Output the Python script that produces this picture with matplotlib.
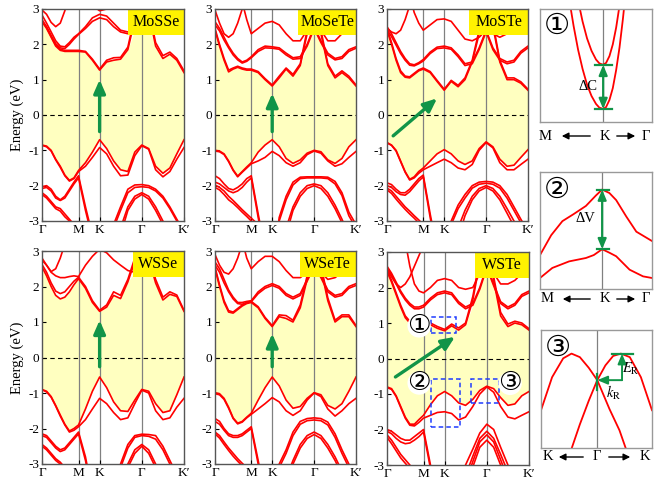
import matplotlib
matplotlib.use('Agg')
import matplotlib.pyplot as plt
from matplotlib.patches import Rectangle, FancyArrowPatch
import numpy as np

plt.rcParams['font.family'] = ['Liberation Serif', 'DejaVu Serif', 'DejaVu Sans']
plt.rcParams['axes.unicode_minus'] = False
plt.rcParams['mathtext.fontset'] = 'stix'

# k-path  Γ - M - K - Γ - K'
k_path = [0, 0.125, 0.25, 0.375, 0.5, 0.625, 0.75, 0.875, 1.0, 1.19, 1.38, 1.577,
          1.77, 1.96, 2.15, 2.35, 2.54, 2.732, 2.92, 3.11, 3.31, 3.50, 3.69, 3.887]
k_ticks = [0, 1.0, 1.577, 2.732, 3.887]
k_labels = ['Γ', 'M', 'K', 'Γ', 'K′']
e_ticks = [-3, -2, -1, 0, 1, 2, 3]

# ---- MoSSe ----
mosse_valence = [
    [-0.85, -0.88, -1.0, -1.25, -1.45, -1.7, -1.85, -1.78, -1.57, -1.35, -1.05, -0.7, -0.95, -1.3, -1.55, -1.6, -1.05, -0.85, -0.95, -1.45, -1.65, -1.5, -1.1, -0.7],
    [-0.86, -0.9, -1.02, -1.27, -1.48, -1.72, -1.87, -1.8, -1.6, -1.45, -1.2, -0.92, -1.1, -1.45, -1.72, -1.7, -1.15, -0.87, -0.97, -1.55, -1.75, -1.6, -1.25, -0.92],
    [-2.03, -2.0, -2.1, -2.3, -2.4, -2.3, -2.1, -1.9, -1.72, -2.6, -3.4, -4.0, -3.6, -3.1, -2.6, -2.1, -1.98, -1.97, -2.0, -2.1, -2.3, -2.6, -2.95, -3.3],
    [-2.08, -2.05, -2.15, -2.35, -2.42, -2.35, -2.15, -1.95, -1.78, -2.7, -3.5, -4.0, -3.7, -3.2, -2.7, -2.2, -2.05, -2.03, -2.05, -2.15, -2.35, -2.65, -3.0, -3.35],
    [-2.2, -2.3, -2.45, -2.6, -2.65, -2.8, -2.95, -3.1, -3.2, -3.5, -4, -4, -4, -3.8, -3.2, -2.6, -2.3, -2.2, -2.3, -2.6, -3.0, -3.4, -3.8, -4],
    [-2.25, -2.35, -2.5, -2.65, -2.72, -2.88, -3.0, -3.15, -3.3, -3.6, -4, -4, -4, -4, -3.4, -2.7, -2.38, -2.25, -2.38, -2.7, -3.1, -3.5, -3.9, -4],
]
mosse_conduction = [
    [2.64, 2.45, 2.2, 1.95, 1.83, 1.8, 1.8, 1.8, 1.8, 1.78, 1.55, 1.27, 1.5, 1.55, 1.58, 1.85, 2.7, 4.0, 2.9, 1.95, 1.6, 1.72, 1.55, 1.2],
    [2.66, 2.48, 2.23, 1.98, 1.86, 1.83, 1.83, 1.83, 1.83, 1.8, 1.58, 1.3, 1.55, 1.62, 1.63, 1.92, 2.8, 4.0, 3.0, 2.05, 1.68, 1.78, 1.6, 1.25],
    [2.83, 2.6, 2.35, 2.1, 1.95, 1.93, 2.05, 2.2, 2.3, 2.5, 2.75, 2.85, 2.8, 2.6, 2.4, 2.35, 2.45, 2.8, 2.5, 2.4, 2.5, 2.8, 3.2, 3.5],
    [2.7, 2.5, 2.25, 2.02, 1.9, 1.88, 2.0, 2.15, 2.28, 2.45, 2.65, 2.75, 2.7, 2.5, 2.35, 2.3, 2.4, 2.75, 2.45, 2.35, 2.45, 2.75, 3.1, 3.4],
    [2.97, 2.85, 2.62, 2.5, 2.6, 2.95, 3.4, 4, 4, 3.4, 3.1, 2.95, 3.0, 3.2, 3.5, 4, 4, 4, 4, 4, 4, 4, 4, 4],
]

# ---- MoSeTe ----
mosete_valence = [
    [-1.0, -1.02, -1.1, -1.3, -1.55, -1.73, -1.6, -1.47, -1.35, -1.05, -0.85, -0.7, -0.9, -1.23, -1.37, -1.27, -1.08, -1.0, -1.04, -1.27, -1.37, -1.23, -0.9, -0.7],
    [-1.02, -1.04, -1.12, -1.32, -1.57, -1.75, -1.62, -1.5, -1.38, -1.3, -1.2, -1.03, -1.15, -1.35, -1.45, -1.35, -1.12, -1.02, -1.08, -1.3, -1.45, -1.38, -1.2, -1.03],
    [-1.72, -1.8, -1.95, -2.08, -2.12, -2.05, -1.95, -1.8, -1.72, -2.8, -3.8, -4.5, -2.9, -2.3, -1.9, -1.76, -1.75, -1.75, -1.75, -1.76, -1.88, -2.2, -2.75, -3.1],
    [-1.9, -1.95, -2.05, -2.15, -2.2, -2.15, -2.05, -1.9, -1.78, -2.9, -3.9, -4.5, -3.0, -2.4, -1.98, -1.8, -1.78, -1.78, -1.78, -1.8, -1.95, -2.28, -2.85, -3.2],
    [-1.98, -2.05, -2.15, -2.3, -2.42, -2.55, -2.68, -2.8, -2.92, -3.1, -3.3, -3.6, -4, -3.2, -2.6, -2.2, -2.0, -1.95, -2.0, -2.2, -2.55, -2.95, -3.4, -3.8],
    [-2.05, -2.12, -2.25, -2.4, -2.5, -2.62, -2.75, -2.87, -3.0, -3.2, -3.4, -3.7, -4, -3.4, -2.7, -2.3, -2.08, -2.0, -2.08, -2.3, -2.65, -3.05, -3.5, -3.9],
]
mosete_conduction = [
    [2.4, 1.95, 1.55, 1.22, 1.3, 1.35, 1.3, 1.27, 1.27, 1.2, 1.0, 0.82, 1.05, 1.3, 1.1, 1.4, 2.3, 3.5, 2.3, 1.4, 1.05, 1.2, 1.05, 0.82],
    [2.45, 2.0, 1.6, 1.27, 1.33, 1.38, 1.33, 1.3, 1.3, 1.23, 1.03, 0.85, 1.1, 1.33, 1.15, 1.45, 2.4, 3.5, 2.4, 1.45, 1.1, 1.25, 1.1, 0.85],
    [2.64, 2.45, 2.2, 1.95, 1.75, 1.6, 1.5, 1.55, 1.65, 1.85, 1.95, 1.93, 1.9, 1.75, 1.62, 1.65, 2.0, 2.5, 2.1, 1.75, 1.6, 1.65, 1.85, 1.93],
    [2.55, 2.38, 2.12, 1.9, 1.7, 1.56, 1.47, 1.52, 1.62, 1.8, 1.9, 1.89, 1.86, 1.7, 1.58, 1.6, 1.95, 2.45, 2.05, 1.7, 1.56, 1.6, 1.8, 1.89],
    [2.97, 2.6, 2.3, 2.2, 2.3, 2.6, 3.0, 3.5, 4, 4, 4, 4, 4, 4, 4, 4, 4, 4, 4, 4, 4, 4, 4, 4],
    [4, 4, 4, 4, 4, 4, 3.2, 2.7, 2.3, 2.45, 2.6, 2.65, 2.55, 2.3, 2.1, 2.1, 2.4, 2.9, 2.4, 2.1, 2.1, 2.3, 2.5, 2.6],
]

# ---- MoSTe ----
moste_valence = [
    [-0.78, -0.85, -1.0, -1.3, -1.6, -1.82, -1.75, -1.6, -1.5, -1.3, -1.1, -0.98, -1.1, -1.3, -1.4, -1.3, -0.95, -0.76, -0.9, -1.25, -1.45, -1.42, -1.2, -0.98],
    [-0.79, -0.86, -1.02, -1.32, -1.62, -1.84, -1.78, -1.65, -1.55, -1.45, -1.35, -1.25, -1.35, -1.5, -1.55, -1.4, -1.0, -0.78, -0.93, -1.35, -1.55, -1.55, -1.4, -1.25],
    [-1.92, -1.97, -2.1, -2.2, -2.2, -2.1, -1.95, -1.8, -1.7, -2.8, -3.8, -4.5, -3.0, -2.55, -2.25, -2.0, -1.9, -1.88, -1.9, -2.0, -2.25, -2.6, -2.95, -3.3],
    [-2.0, -2.05, -2.17, -2.25, -2.27, -2.17, -2.02, -1.87, -1.75, -2.9, -3.9, -4.5, -3.1, -2.65, -2.35, -2.07, -1.96, -1.93, -1.96, -2.07, -2.35, -2.7, -3.05, -3.4],
    [-2.07, -2.15, -2.3, -2.45, -2.6, -2.72, -2.85, -2.97, -3.1, -3.3, -3.6, -4, -4, -3.2, -2.7, -2.3, -2.08, -2.0, -2.08, -2.3, -2.65, -3.0, -3.4, -3.8],
    [-2.12, -2.22, -2.38, -2.53, -2.67, -2.8, -2.92, -3.05, -3.2, -3.4, -3.7, -4, -4, -3.5, -2.85, -2.4, -2.15, -2.05, -2.15, -2.4, -2.78, -3.15, -3.55, -3.9],
]
moste_conduction = [
    [2.4, 2.0, 1.55, 1.2, 1.07, 1.05, 1.15, 1.25, 1.3, 1.2, 0.95, 0.7, 0.95, 0.8, 1.0, 1.5, 2.3, 3.2, 2.5, 1.5, 1.0, 1.0, 0.9, 0.7],
    [2.45, 2.05, 1.6, 1.25, 1.1, 1.08, 1.18, 1.28, 1.33, 1.23, 0.98, 0.73, 0.98, 0.84, 1.05, 1.55, 2.4, 3.3, 2.6, 1.55, 1.05, 1.05, 0.94, 0.73],
    [2.5, 2.3, 2.05, 1.8, 1.6, 1.45, 1.42, 1.48, 1.57, 1.78, 1.92, 1.95, 1.9, 1.7, 1.45, 1.5, 1.9, 2.4, 1.9, 1.6, 1.5, 1.55, 1.8, 1.95],
    [2.42, 2.22, 1.98, 1.74, 1.55, 1.41, 1.39, 1.45, 1.53, 1.74, 1.88, 1.9, 1.86, 1.65, 1.4, 1.45, 1.85, 2.35, 1.85, 1.55, 1.45, 1.5, 1.75, 1.9],
    [2.45, 2.35, 2.3, 2.4, 2.7, 3.1, 3.5, 4, 4, 4, 4, 4, 4, 4, 4, 4, 4, 4, 4, 4, 4, 4, 4, 4],
    [4, 4, 4, 4, 4, 3.4, 2.9, 2.6, 2.4, 2.55, 2.7, 2.72, 2.65, 2.4, 2.15, 2.1, 2.2, 2.4, 2.3, 2.2, 2.3, 2.5, 2.7, 2.75],
]

# ---- WSSe ----
wsse_valence = [
    [-0.9, -0.95, -1.1, -1.35, -1.62, -1.88, -2.07, -2.0, -1.9, -1.45, -0.95, -0.55, -0.85, -1.25, -1.5, -1.52, -1.2, -0.9, -0.95, -1.3, -1.55, -1.5, -1.05, -0.55],
    [-0.91, -0.97, -1.12, -1.37, -1.65, -1.9, -2.1, -2.05, -1.95, -1.75, -1.45, -1.15, -1.3, -1.55, -1.75, -1.7, -1.3, -0.92, -1.0, -1.5, -1.75, -1.7, -1.4, -1.15],
    [-2.15, -2.2, -2.35, -2.5, -2.6, -2.55, -2.4, -2.25, -2.1, -2.8, -3.8, -4.5, -4.5, -4, -3.0, -2.45, -2.2, -2.16, -2.17, -2.2, -2.5, -2.9, -3.3, -3.7],
    [-2.2, -2.25, -2.4, -2.55, -2.65, -2.6, -2.45, -2.3, -2.15, -2.9, -3.9, -4.5, -4.5, -4, -3.1, -2.55, -2.25, -2.2, -2.22, -2.3, -2.6, -3.0, -3.4, -3.8],
    [-2.45, -2.55, -2.7, -2.85, -2.95, -3.1, -3.25, -3.4, -3.5, -4, -4, -4, -4, -4, -3.6, -3.0, -2.6, -2.45, -2.6, -3.0, -3.5, -4, -4, -4],
    [-2.5, -2.6, -2.75, -2.9, -3.0, -3.15, -3.3, -3.45, -3.55, -4, -4, -4, -4, -4, -3.7, -3.1, -2.7, -2.5, -2.7, -3.1, -3.6, -4, -4, -4],
]
wsse_conduction = [
    [2.55, 2.3, 2.0, 1.75, 1.65, 1.7, 1.85, 2.05, 2.22, 1.95, 1.55, 1.3, 1.42, 1.75, 1.66, 2.13, 2.7, 3.5, 2.8, 2.1, 1.62, 1.78, 1.72, 1.3],
    [2.62, 2.4, 2.1, 1.87, 1.8, 1.85, 2.0, 2.15, 2.26, 2.0, 1.6, 1.33, 1.48, 1.85, 1.75, 2.2, 2.8, 3.6, 2.9, 2.2, 1.7, 1.85, 1.76, 1.33],
    [2.74, 2.6, 2.4, 2.3, 2.25, 2.25, 2.28, 2.3, 2.28, 2.6, 2.85, 3.05, 2.95, 2.75, 2.6, 2.45, 2.4, 2.6, 2.5, 2.5, 2.6, 2.8, 3.0, 3.05],
    [2.8, 2.6, 2.42, 2.5, 2.8, 3.2, 3.6, 4, 4, 4, 4, 4, 4, 4, 4, 4, 4, 4, 4, 4, 4, 4, 4, 4],
]

# ---- WSeTe ----
wsete_valence = [
    [-0.99, -1.02, -1.15, -1.4, -1.7, -1.85, -1.8, -1.68, -1.57, -1.2, -0.85, -0.55, -0.8, -1.2, -1.43, -1.38, -1.15, -0.99, -1.05, -1.35, -1.45, -1.3, -0.95, -0.55],
    [-1.02, -1.05, -1.18, -1.43, -1.72, -1.87, -1.82, -1.7, -1.6, -1.45, -1.3, -1.13, -1.25, -1.5, -1.63, -1.5, -1.2, -1.0, -1.1, -1.45, -1.65, -1.5, -1.3, -1.15],
    [-1.72, -1.8, -2.0, -2.15, -2.2, -2.2, -2.15, -2.05, -1.95, -2.9, -3.9, -4.5, -3.0, -2.6, -2.1, -1.8, -1.72, -1.7, -1.72, -1.82, -2.15, -2.6, -3.0, -3.4],
    [-1.8, -1.88, -2.05, -2.2, -2.25, -2.25, -2.2, -2.1, -2.0, -3.0, -4.0, -4.5, -3.1, -2.7, -2.2, -1.88, -1.78, -1.76, -1.78, -1.9, -2.25, -2.7, -3.1, -3.5],
    [-2.1, -2.2, -2.38, -2.55, -2.7, -2.85, -2.98, -3.1, -3.2, -3.5, -4, -4, -4, -3.4, -2.9, -2.45, -2.2, -2.1, -2.2, -2.45, -2.8, -3.2, -3.6, -4],
    [-2.15, -2.27, -2.45, -2.62, -2.78, -2.92, -3.05, -3.18, -3.3, -3.6, -4, -4, -4, -3.5, -3.0, -2.55, -2.28, -2.17, -2.28, -2.55, -2.9, -3.3, -3.7, -4],
]
wsete_conduction = [
    [2.5, 2.0, 1.55, 1.28, 1.25, 1.35, 1.45, 1.52, 1.55, 1.4, 1.1, 0.87, 1.15, 1.1, 1.0, 1.4, 2.2, 3.2, 2.5, 1.6, 1.0, 1.15, 1.15, 0.87],
    [2.55, 2.05, 1.6, 1.32, 1.28, 1.38, 1.48, 1.55, 1.58, 1.43, 1.13, 0.9, 1.2, 1.18, 1.05, 1.48, 2.3, 3.3, 2.6, 1.68, 1.05, 1.2, 1.2, 0.9],
    [2.69, 2.5, 2.2, 1.9, 1.7, 1.55, 1.55, 1.58, 1.6, 1.85, 2.0, 2.08, 2.0, 1.8, 1.7, 1.8, 2.2, 2.6, 2.3, 1.9, 1.75, 1.8, 2.0, 2.08],
    [2.6, 2.4, 2.1, 1.85, 1.65, 1.52, 1.5, 1.55, 1.57, 1.8, 1.95, 2.03, 1.95, 1.75, 1.65, 1.75, 2.15, 2.55, 2.25, 1.85, 1.7, 1.75, 1.95, 2.03],
    [2.9, 2.6, 2.4, 2.35, 2.5, 2.8, 3.2, 4, 4, 4, 4, 4, 4, 4, 4, 4, 4, 4, 4, 4, 4, 4, 4, 4],
    [4, 4, 4, 4, 4, 4, 3.3, 2.8, 2.5, 2.7, 2.85, 2.85, 2.7, 2.45, 2.25, 2.25, 2.4, 2.7, 2.4, 2.2, 2.25, 2.4, 2.6, 2.7],
]

# ---- WSTe ----
wste_valence = [
    [-0.8, -0.85, -1.05, -1.35, -1.65, -1.85, -1.85, -1.72, -1.6, -1.3, -1.05, -0.93, -1.05, -1.25, -1.32, -1.15, -0.9, -0.78, -0.85, -1.1, -1.32, -1.28, -1.05, -0.93],
    [-0.82, -0.87, -1.07, -1.38, -1.68, -1.88, -1.9, -1.8, -1.68, -1.6, -1.52, -1.5, -1.55, -1.73, -1.65, -1.35, -1.0, -0.8, -0.95, -1.35, -1.65, -1.7, -1.6, -1.5],
    [-2.0, -2.05, -2.15, -2.25, -2.3, -2.3, -2.2, -2.1, -2.0, -3.0, -4.0, -4.5, -4.5, -4, -3.0, -2.55, -2.1, -1.85, -2.0, -2.5, -3.0, -3.6, -4, -4.5],
    [-2.05, -2.12, -2.25, -2.35, -2.4, -2.38, -2.3, -2.2, -2.07, -3.1, -4.0, -4.5, -4.5, -4, -3.3, -2.75, -2.25, -2.05, -2.25, -2.7, -3.2, -3.8, -4, -4.5],
    [-2.15, -2.3, -2.5, -2.7, -2.85, -3.0, -3.15, -3.3, -3.4, -4, -4, -4, -4, -4, -3.5, -2.9, -2.35, -2.15, -2.35, -2.85, -3.4, -4, -4, -4],
    [-2.22, -2.4, -2.6, -2.8, -2.95, -3.1, -3.25, -3.4, -3.5, -4, -4, -4, -4, -4, -3.7, -3.05, -2.5, -2.3, -2.5, -3.0, -3.5, -4, -4, -4],
]
wste_conduction = [
    [2.45, 2.15, 1.8, 1.45, 1.15, 1.0, 0.95, 0.92, 0.9, 0.95, 0.85, 0.78, 0.92, 0.8, 0.95, 1.65, 2.7, 3.5, 2.2, 1.2, 0.9, 1.0, 0.95, 0.8],
    [2.5, 2.2, 1.85, 1.5, 1.2, 1.05, 1.0, 0.98, 0.97, 1.0, 0.9, 0.82, 0.97, 0.86, 1.0, 1.75, 2.8, 3.6, 2.3, 1.3, 0.97, 1.05, 1.0, 0.84],
    [2.6, 2.4, 2.15, 1.9, 1.7, 1.55, 1.45, 1.45, 1.5, 1.7, 1.85, 1.9, 1.85, 1.6, 1.45, 1.55, 2.0, 2.6, 2.1, 1.6, 1.45, 1.55, 1.8, 1.9],
    [2.55, 2.35, 2.1, 1.85, 1.65, 1.5, 1.4, 1.4, 1.45, 1.65, 1.8, 1.85, 1.8, 1.55, 1.4, 1.5, 1.95, 2.55, 2.05, 1.55, 1.4, 1.5, 1.75, 1.85],
    [2.5, 2.3, 2.1, 2.0, 2.1, 2.3, 2.6, 2.9, 3.2, 4, 4, 4, 4, 4, 4, 4, 4, 4, 4, 4, 4, 4, 4, 4],
    [4, 4, 4, 4, 3.3, 2.6, 2.1, 1.9, 1.85, 2.0, 2.2, 2.25, 2.2, 2.0, 1.95, 2.0, 2.4, 2.9, 2.4, 2.1, 2.1, 2.2, 2.4, 2.5],
]

panel_names = ['MoSSe', 'MoSeTe', 'MoSTe', 'WSSe', 'WSeTe', 'WSTe']
panel_valence = [mosse_valence, mosete_valence, moste_valence, wsse_valence, wsete_valence, wste_valence]
panel_conduction = [mosse_conduction, mosete_conduction, moste_conduction, wsse_conduction, wsete_conduction, wste_conduction]
# green transition arrows (tail, tip) in (k, E)
gap_arrows = [((1.577, -0.47), (1.577, 1.0)),
              ((1.577, -0.47), (1.577, 0.61)),
              ((0.17, -0.59), (1.38, 0.47)),
              ((1.577, -0.26), (1.577, 1.05)),
              ((1.577, -0.26), (1.577, 0.67)),
              ((0.23, -0.52), (1.86, 0.61))]

# WSTe zoom windows: (k0, k1, E0, E1) and their labels
zoom_boxes = [(1.20, 1.89, 0.72, 1.17), (1.20, 2.00, -1.93, -0.58), (2.30, 3.07, -1.25, -0.58)]
zoom_marks = [('①', 0.88, 0.92), ('②', 0.88, -0.69), ('③', 3.37, -0.70)]

# insets (axes-fraction k, axes-fraction E)
in1_k_lower = [0.27, 0.30, 0.34, 0.38, 0.42, 0.46, 0.50, 0.53, 0.564, 0.59, 0.62, 0.65, 0.68, 0.71, 0.74, 0.76]
in1_e_lower = [1.03, 0.85, 0.64, 0.47, 0.33, 0.23, 0.16, 0.127, 0.115, 0.132, 0.195, 0.30, 0.46, 0.66, 0.91, 1.1]
in1_k_upper = [0.35, 0.38, 0.42, 0.46, 0.50, 0.53, 0.564, 0.59, 0.62, 0.65, 0.68, 0.71]
in1_e_upper = [1.03, 0.89, 0.74, 0.63, 0.553, 0.519, 0.506, 0.523, 0.583, 0.687, 0.836, 1.03]

in2_k_upper = [0, 0.1, 0.2, 0.3, 0.41, 0.5, 0.555, 0.62, 0.68, 0.77, 0.86, 1.0]
in2_e_upper = [0.29, 0.46, 0.58, 0.64, 0.71, 0.8, 0.85, 0.82, 0.76, 0.62, 0.49, 0.41]
in2_k_lower = [0, 0.11, 0.26, 0.41, 0.48, 0.555, 0.62, 0.68, 0.8, 0.92, 1.0]
in2_e_lower = [0.094, 0.18, 0.236, 0.265, 0.29, 0.34, 0.31, 0.28, 0.165, 0.108, 0.094]

in3_k_left = [0, 0.1, 0.2, 0.275, 0.35, 0.43, 0.507, 0.617, 0.707, 0.77]
in3_e_left = [0.32, 0.6, 0.76, 0.8, 0.77, 0.68, 0.575, 0.33, 0.15, -0.02]
in3_k_right = [0.27, 0.35, 0.43, 0.507, 0.58, 0.65, 0.72, 0.8, 0.9, 1.0]
in3_e_right = [-0.02, 0.2, 0.4, 0.575, 0.7, 0.78, 0.8, 0.77, 0.6, 0.32]

RED = '#ff0000'
GREEN = '#119448'
SHADE = '#ffffc0'
TITLE_BG = '#fff200'
GRAY = '#808080'

W, H = 654, 483
fig = plt.figure(figsize=(W / 100, H / 100), dpi=100)


def px_axes(left, top, right, bottom):
    return fig.add_axes([left / W, 1 - bottom / H, (right - left) / W, (bottom - top) / H])


def fpos(x, y):
    return (x / W, 1 - y / H)


panel_rects = [(42, 9, 184, 221), (215, 9, 356, 221), (387, 9, 528, 221),
               (42, 251, 184, 464), (215, 251, 356, 464), (387, 252, 529, 465)]
title_left = [0.605, 0.59, 0.585, 0.64, 0.60, 0.62]

k = np.array(k_path)
for i in range(6):
    ax = px_axes(*panel_rects[i])
    val = np.array(panel_valence[i])
    con = np.array(panel_conduction[i])
    ax.fill_between(k, val.max(axis=0), con.min(axis=0), color=SHADE, lw=0, zorder=0)
    for x in k_ticks[1:-1]:
        ax.axvline(x, color=GRAY, lw=0.9, zorder=1)
    ax.axhline(0, color='k', lw=0.8, ls=(0, (4, 3)), zorder=2)
    for band in list(val) + list(con):
        ax.plot(k, band, color=RED, lw=1.2, zorder=3, solid_joinstyle='round')
    ax.set_xlim(0, k_path[-1])
    ax.set_ylim(-3, 3)
    ax.set_xticks(k_ticks)
    ax.set_xticklabels(k_labels)
    ax.set_yticks(e_ticks)
    ax.tick_params(direction='in', length=3, width=0.8, labelsize=9.5, pad=2)
    for s in ax.spines.values():
        s.set_color('#555555')
        s.set_linewidth(1.0)
        s.set_zorder(8)
    if i % 3 == 0:
        ax.set_ylabel('Energy (eV)', fontsize=10.5, labelpad=3)
    bl = title_left[i]
    ax.add_patch(Rectangle((bl, 0.877), 1 - bl, 0.123, transform=ax.transAxes,
                           fc=TITLE_BG, ec='none', zorder=6))
    ax.text((1 + bl) / 2, 0.938, panel_names[i], transform=ax.transAxes,
            ha='center', va='center', fontsize=11.5, zorder=7)
    tail, tip = gap_arrows[i]
    ax.annotate('', xy=tip, xytext=tail, zorder=7,
                arrowprops=dict(arrowstyle='-|>,head_length=0.8,head_width=0.35',
                                color=GREEN, lw=2.4, shrinkA=0, shrinkB=0))
    if i == 5:
        for k0, k1, e0, e1 in zoom_boxes:
            ax.add_patch(Rectangle((k0, e0), k1 - k0, e1 - e0, fill=False, ec='#1f3cff',
                                   lw=1.1, ls=(0, (3, 2)), zorder=6))
        for s, x, y in zoom_marks:
            ax.text(x, y, s, ha='center', va='center', fontsize=19, zorder=7,
                    family=['DejaVu Sans'],
                    bbox=dict(boxstyle='circle,pad=-0.05', fc='white', ec='none'))


def inset(rect, kline, mark):
    ax = px_axes(*rect)
    ax.set_xlim(0, 1)
    ax.set_ylim(0, 1)
    ax.set_xticks([])
    ax.set_yticks([])
    for s in ax.spines.values():
        s.set_color('#999999')
        s.set_linewidth(1.0)
    ax.axvline(kline, color=GRAY, lw=0.9, zorder=1)
    ax.text(0.15, 0.85, mark, transform=ax.transAxes, ha='center', va='center',
            fontsize=21, family=['DejaVu Sans'])
    return ax


def path_labels(y, labels, xs, arrows):
    for s, x in zip(labels, xs):
        fig.text(*fpos(x, y), s, ha='center', va='center', fontsize=10.5)
    for x0, x1 in arrows:
        fig.add_artist(FancyArrowPatch(
            fpos(x0, y), fpos(x1, y), transform=fig.transFigure,
            arrowstyle='-|>,head_length=4,head_width=2', color='k', lw=1.0))


# inset 1
a1 = inset((540, 9, 652, 122), 0.564, '①')
a1.plot(in1_k_lower, in1_e_lower, color=RED, lw=1.3)
a1.plot(in1_k_upper, in1_e_upper, color=RED, lw=1.3)
for e in (in1_e_upper[6], in1_e_lower[8]):
    a1.plot([0.49, 0.64], [e, e], color=GREEN, lw=1.6)
a1.annotate('', xy=(0.564, in1_e_lower[8]), xytext=(0.564, in1_e_upper[6]),
            arrowprops=dict(arrowstyle='<|-|>,head_length=0.6,head_width=0.25',
                            color=GREEN, lw=1.6, shrinkA=0, shrinkB=0))
a1.text(0.43, 0.31, 'ΔC', ha='center', va='center', fontsize=10.5)
path_labels(136, ['M', 'K', 'Γ'], [545, 605, 646], [(593, 559), (614, 638)])

# inset 2
a2 = inset((540, 172, 652, 289), 0.555, '②')
a2.plot(in2_k_upper, in2_e_upper, color=RED, lw=1.3)
a2.plot(in2_k_lower, in2_e_lower, color=RED, lw=1.3)
for e in (in2_e_upper[6], in2_e_lower[5]):
    a2.plot([0.505, 0.615], [e, e], color=GREEN, lw=1.6)
a2.annotate('', xy=(0.555, in2_e_lower[5]), xytext=(0.555, in2_e_upper[6]),
            arrowprops=dict(arrowstyle='<|-|>,head_length=0.6,head_width=0.25',
                            color=GREEN, lw=1.6, shrinkA=0, shrinkB=0))
a2.text(0.41, 0.6, 'ΔV', ha='center', va='center', fontsize=10.5)
path_labels(299, ['M', 'K', 'Γ'], [547, 605, 646], [(593, 560), (614, 638)])

# inset 3
a3 = inset((541, 330, 652, 448), 0.507, '③')
a3.plot(in3_k_left, in3_e_left, color=RED, lw=1.3)
a3.plot(in3_k_right, in3_e_right, color=RED, lw=1.3)
a3.plot([0.64, 0.83], [0.8, 0.8], color=GREEN, lw=1.6)
a3.plot([0.507, 0.507], [0.49, 0.63], color=GREEN, lw=1.6)
a3.annotate('', xy=(0.73, 0.8), xytext=(0.73, 0.575),
            arrowprops=dict(arrowstyle='-|>,head_length=0.6,head_width=0.25',
                            color=GREEN, lw=1.4, shrinkA=0, shrinkB=0))
a3.annotate('', xy=(0.507, 0.575), xytext=(0.73, 0.575),
            arrowprops=dict(arrowstyle='-|>,head_length=0.6,head_width=0.25',
                            color=GREEN, lw=1.4, shrinkA=0, shrinkB=0))
a3.text(0.81, 0.67, r'$E_\mathrm{R}$', ha='center', va='center', fontsize=10.5)
a3.text(0.65, 0.47, r'$k_\mathrm{R}$', ha='center', va='center', fontsize=10.5)
path_labels(457, ['K', 'Γ', 'K'], [548, 597, 645], [(586, 556), (606, 633)])

fig.savefig('out.png', dpi=100)
